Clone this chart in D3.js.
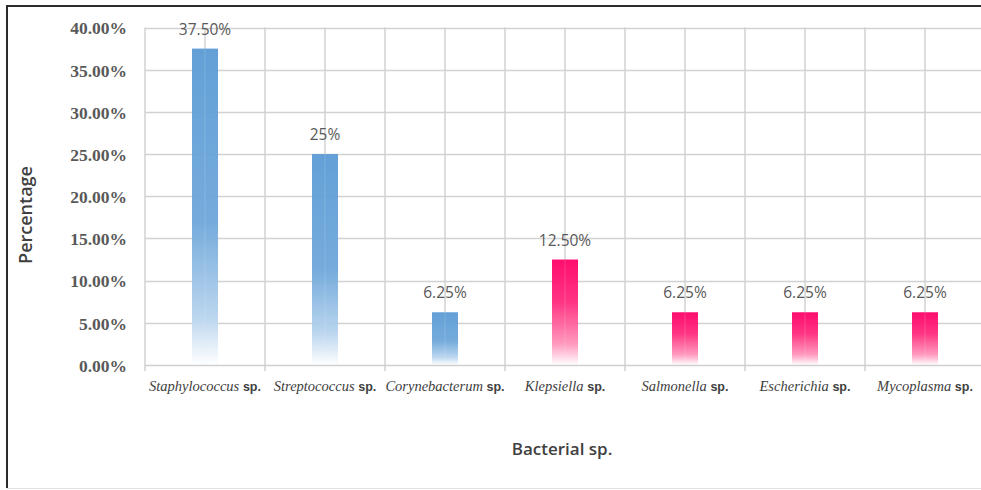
<!DOCTYPE html>
<html>
<head>
<meta charset="utf-8">
<script src="https://cdn.jsdelivr.net/npm/d3@7"></script>
<style>
  html, body { margin: 0; padding: 0; background: #fff; }
  svg { display: block; }
</style>
</head>
<body>
<svg id="chart" width="981" height="490"></svg>
<script>
// Bacterial isolates: genus names, share of isolates (%), bar colour group
const genera = ["Staphylococcus", "Streptococcus", "Corynebacterum", "Klepsiella", "Salmonella", "Escherichia", "Mycoplasma"];
const percentages = [37.5, 25, 6.25, 12.5, 6.25, 6.25, 6.25];
const valueLabels = ["37.50%", "25%", "6.25%", "12.50%", "6.25%", "6.25%", "6.25%"];
const colourGroup = ["blue", "blue", "blue", "pink", "pink", "pink", "pink"];
const yTicks = [0, 5, 10, 15, 20, 25, 30, 35, 40];

const svg = d3.select("#chart");
const plot = { left: 145, right: 985, top: 27.5, bottom: 365 };

// Outer frame (right side runs off the canvas)
svg.append("line").attr("x1", 7).attr("x2", 7).attr("y1", 6).attr("y2", 488)
  .attr("stroke", "#2b2b2b").attr("stroke-width", 2);
svg.append("line").attr("x1", 6).attr("x2", 990).attr("y1", 6).attr("y2", 6)
  .attr("stroke", "#2b2b2b").attr("stroke-width", 2);
svg.append("line").attr("x1", 7).attr("x2", 990).attr("y1", 488.5).attr("y2", 488.5)
  .attr("stroke", "#e2e2e2").attr("stroke-width", 1);

const x = d3.scaleBand().domain(genera).range([plot.left, plot.right]).padding(0);
const y = d3.scaleLinear().domain([0, 40]).range([plot.bottom, plot.top]);

// Gradients: solid at the bar top, fading to white at the baseline
const defs = svg.append("defs");
const gradStops = {
  blue: [["0%", "#5b9bd5"], ["55%", "#6ea7da"], ["85%", "#b8d4ee"], ["100%", "#ffffff"]],
  pink: [["0%", "#ff0066"], ["40%", "#ff2a7c"], ["80%", "#ff94bb"], ["100%", "#ffffff"]]
};
Object.entries(gradStops).forEach(([key, stops]) => {
  const g = defs.append("linearGradient").attr("id", "grad-" + key)
    .attr("x1", 0).attr("y1", 0).attr("x2", 0).attr("y2", 1);
  stops.forEach(([o, c]) => g.append("stop").attr("offset", o).attr("stop-color", c));
});

// Horizontal gridlines
svg.append("g").selectAll("line").data(yTicks.filter(d => d > 0)).join("line")
  .attr("x1", plot.left).attr("x2", 990)
  .attr("y1", d => Math.round(y(d)) + 0.5).attr("y2", d => Math.round(y(d)) + 0.5)
  .attr("stroke", "#d2d2d2").attr("stroke-width", 1.5);

// Vertical gridlines at category edges and centres
const vLines = [];
genera.forEach(g => { vLines.push(x(g)); vLines.push(x(g) + x.bandwidth() / 2); });
vLines.push(plot.right);
svg.append("g").selectAll("line").data(vLines).join("line")
  .attr("x1", d => d).attr("x2", d => d)
  .attr("y1", plot.top).attr("y2", plot.bottom)
  .attr("stroke", "#d2d2d2").attr("stroke-width", 1.5);

// Bars
const barW = 26;
svg.append("g").selectAll("rect").data(genera).join("rect")
  .attr("x", d => x(d) + x.bandwidth() / 2 - barW / 2)
  .attr("y", (d, i) => y(percentages[i]))
  .attr("width", barW)
  .attr("height", (d, i) => y(0) - y(percentages[i]))
  .attr("fill", (d, i) => "url(#grad-" + colourGroup[i] + ")")
  .attr("fill-opacity", 0.95);

// Faint centre line showing through each bar
svg.append("g").selectAll("line").data(genera).join("line")
  .attr("x1", d => x(d) + x.bandwidth() / 2).attr("x2", d => x(d) + x.bandwidth() / 2)
  .attr("y1", (d, i) => y(percentages[i])).attr("y2", plot.bottom)
  .attr("stroke", "#ffffff").attr("stroke-opacity", 0.18).attr("stroke-width", 1);

// Baseline with ticks at category edges
svg.append("line").attr("x1", plot.left).attr("x2", 990)
  .attr("y1", plot.bottom + 0.5).attr("y2", plot.bottom + 0.5)
  .attr("stroke", "#cfcfcf").attr("stroke-width", 1.5);
svg.append("g").selectAll("line").data(genera.map(g => x(g)).concat([plot.right])).join("line")
  .attr("x1", d => d).attr("x2", d => d)
  .attr("y1", plot.bottom).attr("y2", plot.bottom + 6)
  .attr("stroke", "#cfcfcf").attr("stroke-width", 1.5);

// Y tick labels
const yAxis = d3.axisLeft(y).tickValues(yTicks).tickFormat(d => d.toFixed(2) + "%").tickSize(0).tickPadding(0);
const yg = svg.append("g").attr("transform", "translate(127,0)").call(yAxis);
yg.select(".domain").remove();
yg.selectAll("text")
  .attr("font-family", "'Liberation Serif', 'Times New Roman', serif")
  .attr("font-weight", "bold").attr("font-size", 17.5).attr("fill", "#595959")
  .attr("dy", "0.36em");

// Value labels
svg.append("g").selectAll("text").data(genera).join("text")
  .attr("x", d => x(d) + x.bandwidth() / 2)
  .attr("y", (d, i) => y(percentages[i]) - 14)
  .attr("text-anchor", "middle")
  .attr("font-family", "'Open Sans', 'Liberation Sans', sans-serif")
  .attr("font-size", 15.5).attr("fill", "#595959")
  .text((d, i) => valueLabels[i]);

// Category labels: italic genus + bold "sp."
const cat = svg.append("g").selectAll("text").data(genera).join("text")
  .attr("x", d => x(d) + x.bandwidth() / 2)
  .attr("y", 391)
  .attr("text-anchor", "middle")
  .attr("fill", "#404040");
cat.append("tspan").attr("font-family", "'Liberation Serif', 'Times New Roman', serif")
  .attr("font-style", "italic").attr("font-size", 14.5).text(d => d + " ");
cat.append("tspan").attr("font-family", "'Liberation Sans', Arial, sans-serif")
  .attr("font-weight", "bold").attr("font-size", 12.5).text("sp.");

// Axis titles
svg.append("text")
  .attr("transform", "translate(32,215) rotate(-90)")
  .attr("text-anchor", "middle")
  .attr("font-family", "'Open Sans', 'Noto Sans', sans-serif")
  .attr("font-weight", 600).attr("font-size", 18).attr("fill", "#404040")
  .text("Percentage");
svg.append("text")
  .attr("x", 562).attr("y", 455)
  .attr("text-anchor", "middle")
  .attr("font-family", "'Open Sans', 'Noto Sans', sans-serif")
  .attr("font-weight", 600).attr("font-size", 17).attr("fill", "#404040")
  .text("Bacterial sp.");
</script>
</body>
</html>
